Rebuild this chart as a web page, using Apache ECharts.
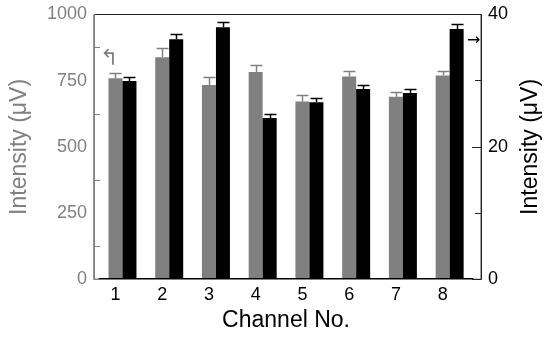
<!DOCTYPE html>
<html>
<head>
<meta charset="utf-8">
<script src="https://cdn.jsdelivr.net/npm/echarts@6/dist/echarts.min.js"></script>
<style>
	html, body { margin: 0; padding: 0; background: #fff; }
	#chart { width: 550px; height: 337px; }
</style>
</head>
<body>
<div id="chart"></div>
<script>
// channel numbers
var categories = ['1', '2', '3', '4', '5', '6', '7', '8'];
// gray bars, left axis (uV)
var grayVals = [758, 838, 733, 782, 670, 765, 688, 769];
var grayErr = [20, 35, 30, 27, 26, 20, 18, 18];
// black bars, right axis (uV)
var blackVals = [29.9, 36.25, 38.05, 24.3, 26.7, 28.7, 28.1, 37.8];
var blackErr = [0.65, 0.75, 0.8, 0.55, 0.6, 0.6, 0.55, 0.8];
// axis ranges
var leftMax = 1000, leftStep = 250;
var rightMax = 40, rightStep = 20;

var GRAY = '#808080';
var FONT = 'Liberation Sans, Arial, sans-serif';

var myChart = echarts.init(document.getElementById('chart'));

function errRender(shift, color) {
	return function(params, api) {
		var i = api.value(0), v = api.value(1), e = api.value(2);
		var base = api.coord([i, v]);
		var top = api.coord([i, v + e]);
		var x = Math.round(base[0] + shift) + 0.5;
		var yt = Math.round(top[1]) + 0.5;
		return {
			type: 'group',
			children: [
				{ type: 'line', shape: { x1: x, y1: base[1], x2: x, y2: yt }, style: { stroke: color, lineWidth: 1.5 } },
				{ type: 'line', shape: { x1: x - 6, y1: yt, x2: x + 6, y2: yt }, style: { stroke: color, lineWidth: 1.5 } }
			]
		};
	};
}

function errData(vals, errs) {
	var out = [];
	for (var i = 0; i < vals.length; i++) {
		out.push([i, vals[i], errs[i]]);
	}
	return out;
}

var options = {
	animation: false,
	textStyle: { fontFamily: FONT },
	grid: [
		// frame
		{ left: 92, top: 14.5, width: 392, bottom: 57.7, show: true, borderColor: '#222', borderWidth: 1, backgroundColor: 'transparent' },
		// bars
		{ left: 99.1, width: 373.9, top: 14.5, bottom: 57.7 }
	],
	xAxis: [
		{
			gridIndex: 0, type: 'value', min: 0, max: 1,
			axisLine: { show: true, lineStyle: { color: GRAY, width: 1 } },
			axisTick: { show: false }, axisLabel: { show: false }, splitLine: { show: false }
		},
		{
			gridIndex: 1, type: 'category', data: categories, boundaryGap: true, z: 3,
			axisLine: { show: true, lineStyle: { color: '#000', width: 1 } },
			axisTick: { show: false },
			axisLabel: { color: '#000', fontSize: 18, fontFamily: FONT, margin: 8, padding: [0, 14, 0, 0] },
			name: 'Channel No.', nameLocation: 'middle', nameGap: 30,
			nameTextStyle: { color: '#000', fontSize: 23, fontFamily: FONT }
		}
	],
	yAxis: [
		{
			gridIndex: 0, type: 'value', position: 'left', min: 0, max: leftMax, interval: leftStep, z: 3,
			axisLine: { show: true, lineStyle: { color: GRAY, width: 1 } },
			axisTick: { show: false },
			minorTick: { show: true, splitNumber: 2, length: -6, lineStyle: { color: GRAY, width: 1 } },
			axisLabel: { color: GRAY, fontSize: 18, fontFamily: FONT, margin: 7, formatter: function(v) { return String(v); } },
			splitLine: { show: false }, minorSplitLine: { show: false },
			name: 'Intensity (\u03bcV)', nameLocation: 'middle', nameGap: 63, nameRotate: 90,
			nameTextStyle: { color: GRAY, fontSize: 23, fontFamily: FONT }
		},
		{
			gridIndex: 0, type: 'value', position: 'right', min: 0, max: rightMax, interval: rightStep, z: 3,
			axisLine: { show: true, lineStyle: { color: '#222', width: 1 } },
			axisTick: { show: true, length: -9, lineStyle: { color: '#222', width: 1 } },
			minorTick: { show: true, splitNumber: 2, length: -6, lineStyle: { color: '#222', width: 1 } },
			axisLabel: { color: '#000', fontSize: 18, fontFamily: FONT, margin: 7 },
			splitLine: { show: false }, minorSplitLine: { show: false },
			name: 'Intensity (\u03bcV)', nameLocation: 'middle', nameGap: 36, nameRotate: 90,
			nameTextStyle: { color: '#000', fontSize: 23, fontFamily: FONT }
		},
		{ gridIndex: 1, type: 'value', min: 0, max: leftMax, show: false },
		{ gridIndex: 1, type: 'value', min: 0, max: rightMax, show: false }
	],
	graphic: [
		{ type: 'text', left: 100, top: 48, style: { text: '\u21b0', fill: GRAY, font: '22px "DejaVu Sans"' } },
		{ type: 'text', left: 467, top: 33, style: { text: '\u2192', fill: '#000', font: '16px "DejaVu Sans"' } }
	],
	series: [
		{
			type: 'bar', xAxisIndex: 1, yAxisIndex: 2, data: grayVals,
			barWidth: 14, barGap: 0, itemStyle: { color: GRAY }
		},
		{
			type: 'bar', xAxisIndex: 1, yAxisIndex: 3, data: blackVals,
			barWidth: 14, barGap: 0, itemStyle: { color: '#000' }
		},
		{
			type: 'custom', xAxisIndex: 1, yAxisIndex: 2, z: 3,
			renderItem: errRender(-7, GRAY), data: errData(grayVals, grayErr)
		},
		{
			type: 'custom', xAxisIndex: 1, yAxisIndex: 3, z: 3,
			renderItem: errRender(7, '#000'), data: errData(blackVals, blackErr)
		}
	]
};

myChart.setOption(options);
</script>
</body>
</html>
